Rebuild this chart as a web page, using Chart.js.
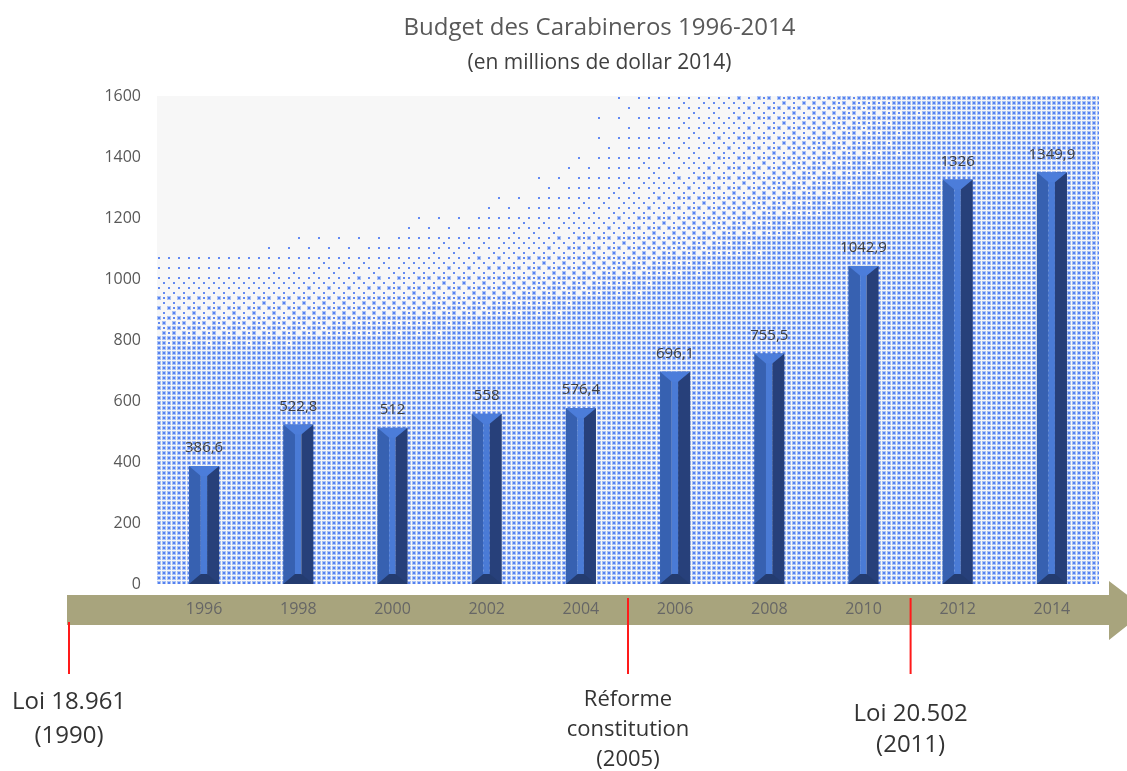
<!DOCTYPE html>
<html>
<head>
<meta charset="utf-8">
<script src="https://cdn.jsdelivr.net/npm/chart.js@4.4.1/dist/chart.umd.min.js"></script>
<style>
  html, body { margin: 0; padding: 0; background: #ffffff; }
  #wrap { width: 1127px; height: 771px; }
</style>
</head>
<body>
<div id="wrap"><canvas id="c" width="1127" height="771"></canvas></div>
<script>
// ---- data ----
const years = ['1996', '1998', '2000', '2002', '2004', '2006', '2008', '2010', '2012', '2014'];
const budget = [386.6, 522.8, 512, 558, 576.4, 696.1, 755.5, 1042.9, 1326, 1349.9];
const yTicks = [0, 200, 400, 600, 800, 1000, 1200, 1400, 1600];
const eventYears = [1990, 2005, 2011];
const eventLabels = [['Loi 18.961', '(1990)'], ['Réforme', 'constitution', '(2005)'], ['Loi 20.502', '(2011)']];
const titleText = 'Budget des Carabineros 1996-2014';
const subtitleText = '(en millions de dollar 2014)';

const FONT = "'Open Sans', 'DejaVu Sans', sans-serif";

// ---- plugin: dotted background, arrow, event markers ----
const BAYER = [[0, 8, 2, 10], [12, 4, 14, 6], [3, 11, 1, 9], [15, 7, 13, 5]];
const backdrop = {
  id: 'backdrop',
  beforeDraw(chart) {
    const ctx = chart.ctx;
    const a = chart.chartArea;
    ctx.save();
    // plot background
    ctx.fillStyle = '#f7f7f7';
    ctx.fillRect(a.left, a.top, a.right - a.left, a.bottom - a.top);
    const P = 5;
    for (let j = 0; a.top + j * P < a.bottom; j++) {
      for (let i = 0; a.left + i * P < a.right; i++) {
        const cx = a.left + i * P, cy = a.top + j * P;
        const u = (cx - a.left) / 480, v = (cy - a.top) / 160;
        const r = Math.sqrt(u * u + v * v);
        const d = Math.min(1, Math.max(0, (r - 0.9) / 0.7));
        const t = (BAYER[j % 4][i % 4] + 0.5) / 16;
        const w = Math.min(4, a.right - cx), h = Math.min(4, a.bottom - cy);
        if (d > 0.4 + 0.6 * t) {
          ctx.fillStyle = '#aac2f5';
          ctx.fillRect(cx, cy, w, h);
        }
        if (d > t * 0.9) {
          ctx.fillStyle = 'rgba(70,118,240,0.85)';
          ctx.fillRect(cx + 1, cy + 1, Math.min(2, w - 1), Math.min(2, h - 1));
        }
      }
    }
    // arrow
    const arrowLeft = a.left - 90;
    const bodyTop = a.bottom + 11, bodyBottom = a.bottom + 41;
    const headX = a.right + 10, headTop = a.bottom - 3, headBottom = a.bottom + 56;
    const midY = (bodyTop + bodyBottom) / 2;
    ctx.fillStyle = '#a8a47d';
    ctx.beginPath();
    ctx.moveTo(arrowLeft, bodyTop);
    ctx.lineTo(headX, bodyTop);
    ctx.lineTo(headX, headTop);
    ctx.lineTo(headX + 38, midY);
    ctx.lineTo(headX, headBottom);
    ctx.lineTo(headX, bodyBottom);
    ctx.lineTo(arrowLeft, bodyBottom);
    ctx.closePath();
    ctx.fill();

    // events
    const xs = chart.scales.x;
    const p0 = xs.getPixelForValue(0);
    const step = xs.getPixelForValue(1) - p0;
    const yearStep = Number(years[1]) - Number(years[0]);
    const styles = [
      { size: 24, dy: 118, lh: 34 },
      { size: 22, dy: 116, lh: 30 },
      { size: 24, dy: 130, lh: 31 }
    ];
    eventYears.forEach((yr, k) => {
      let x = p0 + (yr - Number(years[0])) / yearStep * step;
      let top = bodyTop + 3;
      if (x < arrowLeft) { x = arrowLeft + 2; top = bodyBottom - 3; }
      ctx.strokeStyle = '#ff1a1a';
      ctx.lineWidth = 2;
      ctx.beginPath();
      ctx.moveTo(x, top);
      ctx.lineTo(x, a.bottom + 90);
      ctx.stroke();
      const st = styles[k];
      ctx.fillStyle = '#333333';
      ctx.font = st.size + 'px ' + FONT;
      ctx.textAlign = 'center';
      ctx.textBaseline = 'middle';
      eventLabels[k].forEach((line, n) => {
        ctx.fillText(line, x, a.bottom + st.dy + n * st.lh);
      });
    });
    ctx.restore();
  }
};

// ---- plugin: bevelled bars and value labels ----
const bevelBars = {
  id: 'bevelBars',
  afterDatasetsDraw(chart) {
    const ctx = chart.ctx;
    const meta = chart.getDatasetMeta(0);
    ctx.save();
    meta.data.forEach((el, i) => {
      const w = el.width;
      const x0 = el.x - w / 2, x1 = el.x + w / 2;
      const yT = el.y, yB = el.base;
      const s1 = x0 + 0.39 * w, s2 = x0 + 0.6 * w;
      const d = Math.min(0.33 * w, (yB - yT) / 2);
      ctx.fillStyle = '#3761b1';
      ctx.fillRect(x0, yT, s1 - x0, yB - yT);
      ctx.fillStyle = '#4a7bd6';
      ctx.fillRect(s1, yT, s2 - s1, yB - yT);
      ctx.fillStyle = '#27407a';
      ctx.fillRect(s2, yT, x1 - s2, yB - yT);
      // top facet
      ctx.fillStyle = '#4c7dda';
      ctx.beginPath();
      ctx.moveTo(x0, yT); ctx.lineTo(x1, yT); ctx.lineTo(s2, yT + d); ctx.lineTo(s1, yT + d);
      ctx.closePath(); ctx.fill();
      // bottom facet
      ctx.fillStyle = '#243c70';
      ctx.beginPath();
      ctx.moveTo(x0, yB); ctx.lineTo(s1, yB - d); ctx.lineTo(s2, yB - d); ctx.lineTo(x1, yB);
      ctx.closePath(); ctx.fill();
      // value label
      ctx.fillStyle = '#404040';
      ctx.font = '15px ' + FONT;
      ctx.textAlign = 'center';
      ctx.textBaseline = 'middle';
      ctx.fillText(String(budget[i]).replace('.', ','), el.x, yT - 18);
    });
    ctx.restore();
  }
};

Chart.defaults.font.family = FONT;

new Chart(document.getElementById('c'), {
  type: 'bar',
  data: {
    labels: years,
    datasets: [{
      label: 'Budget',
      data: budget,
      backgroundColor: 'rgba(0,0,0,0)',
      borderWidth: 0,
      barPercentage: 0.32,
      categoryPercentage: 1
    }]
  },
  options: {
    responsive: false,
    animation: false,
    devicePixelRatio: 1,
    layout: { padding: { left: 100, right: 28, top: 0, bottom: 0 } },
    plugins: {
      legend: { display: false },
      tooltip: { enabled: false },
      title: {
        display: true, text: titleText, color: '#595959',
        font: { family: FONT, size: 24, weight: 'normal' },
        padding: { top: 14, bottom: 0 }
      },
      subtitle: {
        display: true, text: subtitleText, color: '#404040',
        font: { family: FONT, size: 21, weight: 'normal' },
        padding: { top: 8, bottom: 20 }
      }
    },
    scales: {
      x: {
        grid: { display: false, drawTicks: false },
        border: { display: false },
        ticks: { color: '#666666', font: { family: FONT, size: 16 }, padding: 16, maxRotation: 0 },
        afterFit(s) { s.height = 187; }
      },
      y: {
        min: 0, max: 1600,
        grid: { display: false, drawTicks: false },
        border: { display: false },
        ticks: {
          color: '#595959', font: { family: FONT, size: 16 }, padding: 16,
          callback: v => String(v)
        },
        afterBuildTicks(s) { s.ticks = yTicks.map(v => ({ value: v })); },
        afterFit(s) { s.width = 57; }
      }
    }
  },
  plugins: [backdrop, bevelBars]
});
</script>
</body>
</html>
